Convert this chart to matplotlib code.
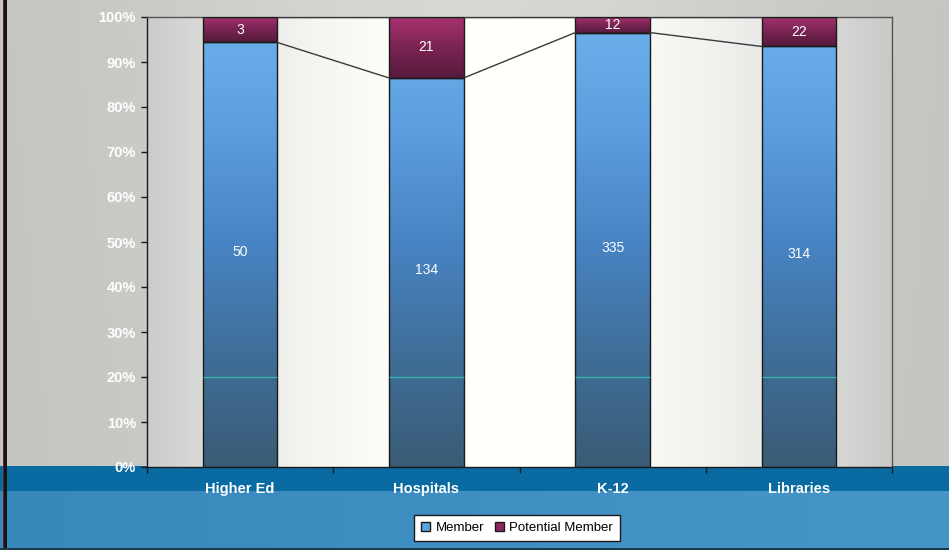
import numpy as np
import matplotlib
matplotlib.use("Agg")
import matplotlib.pyplot as plt
from matplotlib.colors import LinearSegmentedColormap, to_rgb
from matplotlib.patches import Patch

plt.rcParams['font.family'] = ['Liberation Sans', 'DejaVu Sans']

# Membership counts by sector
categories = ["Higher Ed", "Hospitals", "K-12", "Libraries"]
member = [50, 134, 335, 314]
potential = [3, 21, 12, 22]
series_names = ["Member", "Potential Member"]
y_tick_labels = ["0%", "10%", "20%", "30%", "40%", "50%", "60%", "70%", "80%", "90%", "100%"]

member = np.array(member, dtype=float)
potential = np.array(potential, dtype=float)
totals = member + potential
member_frac = member / totals
potential_frac = potential / totals

W, H = 949, 550
fig = plt.figure(figsize=(W / 100, H / 100), dpi=100)

# ---- figure background: silver gradient on top, blue band at the bottom ----
bg = fig.add_axes([0, 0, 1, 1])
bg.set_axis_off()
xs = np.linspace(0, 1, W)
ys = np.linspace(0, 1, H)  # 0 = top
X, Y = np.meshgrid(xs, ys)
silver = 0.765 + 0.08 * np.exp(-((X - 0.5) / 0.35) ** 2) * (1 - 0.35 * Y)
img = np.dstack([silver, silver, silver * 0.985])
band_top = 466 / H
band_mid = 491 / H
dark_blue = np.array(to_rgb("#0b6ca3"))
light_blue = np.array(to_rgb("#3888bc"))
light_blue2 = np.array(to_rgb("#4796c9"))
mask1 = (Y >= band_top) & (Y < band_mid)
mask2 = Y >= band_mid
img[mask1] = dark_blue
t = X[mask2][:, None]
img[mask2] = light_blue * (1 - t) + light_blue2 * t
img[:, 3:4] = np.array(to_rgb("#6a2020"))
img[:, 4:7] = np.array(to_rgb("#151515"))
img[-2:, :] = np.array(to_rgb("#1a3a50"))
bg.imshow(img, extent=[0, 1, 0, 1], aspect="auto", origin="upper")
bg.set_xlim(0, 1)
bg.set_ylim(0, 1)

# ---- plot area ----
left, right = 147 / W, 892 / W
bottom, top = (H - 467) / H, (H - 17) / H
ax = fig.add_axes([left, bottom, right - left, top - bottom])
ax.set_facecolor("none")
xlim = (-0.5, len(categories) - 0.5)
ylim = (0, 1)

# plot area fill: grey at the sides, white toward the centre
px = np.linspace(0, 1, 400)
shade = np.interp(px, [0, 0.2, 0.35, 0.6, 0.8, 1.0], [0.80, 0.95, 1.0, 1.0, 0.93, 0.79])
pa = np.dstack([shade, shade, shade * 0.99]).repeat(2, axis=0)
ax.imshow(pa, extent=[xlim[0], xlim[1], 0, 1], aspect="auto", zorder=0)

x = np.arange(len(categories))
bar_w = 0.40

member_cmap = LinearSegmentedColormap.from_list(
    "member", ["#3a5c76", "#3f6e98", "#4884c4", "#5c9ede", "#6cb2ec"])
potential_cmap = LinearSegmentedColormap.from_list(
    "potential", ["#561a3c", "#7a2452", "#a83270"])

grad = np.linspace(0, 1, 256).reshape(-1, 1)

bars_m = ax.bar(x, member_frac, width=bar_w, facecolor="none",
                edgecolor="#1a1a1a", linewidth=1.0, zorder=3)
bars_p = ax.bar(x, potential_frac, width=bar_w, bottom=member_frac,
                facecolor="none", edgecolor="#1a1a1a", linewidth=1.0, zorder=3)

for rect in bars_m:
    x0, y0 = rect.get_x(), rect.get_y()
    im = ax.imshow(grad, cmap=member_cmap, extent=[x0, x0 + rect.get_width(), 0, 1],
                   origin="lower", aspect="auto", zorder=2)
    im.set_clip_path(rect)
for rect in bars_p:
    x0, y0 = rect.get_x(), rect.get_y()
    im = ax.imshow(grad, cmap=potential_cmap,
                   extent=[x0, x0 + rect.get_width(), y0, y0 + rect.get_height()],
                   origin="lower", aspect="auto", zorder=2)
    im.set_clip_path(rect)

# faint teal line across the bars at 20%
ax.hlines(np.full(len(x), 0.2), x - bar_w / 2, x + bar_w / 2, color="#2ec8b0",
          linewidth=1.0, alpha=0.8, zorder=4)

# series lines joining the segment tops
for i in range(len(categories) - 1):
    ax.plot([x[i] + bar_w / 2, x[i + 1] - bar_w / 2],
            [member_frac[i], member_frac[i + 1]],
            color="#3a3a3a", linewidth=1.0, zorder=3)
    ax.plot([x[i] + bar_w / 2, x[i + 1] - bar_w / 2], [1, 1],
            color="#3a3a3a", linewidth=1.0, zorder=3)

# value labels
for i in range(len(categories)):
    ax.text(x[i], member_frac[i] / 2 + 0.005, f"{int(member[i])}", color="white",
            ha="center", va="center", fontsize=10, zorder=5)
    ax.text(x[i], member_frac[i] + potential_frac[i] / 2, f"{int(potential[i])}",
            color="white", ha="center", va="center", fontsize=10, zorder=5)

ax.set_xlim(*xlim)
ax.set_ylim(*ylim)

ax.set_yticks(np.linspace(0, 1, len(y_tick_labels)))
ax.set_yticklabels(y_tick_labels, color="white", fontsize=10.5, fontweight="bold")
ax.tick_params(axis="y", direction="out", length=4, width=1, pad=4, colors="#1a1a1a",
               labelcolor="white")

ax.set_xticks(x)
ax.set_xticklabels(categories, color="white", fontsize=10.5, fontweight="bold")
ax.tick_params(axis="x", which="major", length=0, pad=11, labelcolor="white")
ax.set_xticks(np.arange(-0.5, len(categories), 1), minor=True)
ax.tick_params(axis="x", which="minor", direction="out", length=4, width=1,
               colors="#1a1a1a")

for side in ["left", "bottom"]:
    ax.spines[side].set_color("#1a1a1a")
    ax.spines[side].set_linewidth(1.0)
for side in ["top", "right"]:
    ax.spines[side].set_color("#555555")
    ax.spines[side].set_linewidth(1.0)

handles = [Patch(facecolor="#5aa6e0", edgecolor="#1a1a1a", label=series_names[0]),
           Patch(facecolor="#8a2a5c", edgecolor="#1a1a1a", label=series_names[1])]
leg = fig.legend(handles=handles, loc="center", bbox_to_anchor=(517 / W, 1 - 528 / H),
                 ncol=2, frameon=True, fancybox=False, fontsize=9.5, framealpha=1.0,
                 handlelength=0.7, handleheight=0.7, handletextpad=0.4,
                 columnspacing=0.8, borderpad=0.55, edgecolor="#1a1a1a")
leg.get_frame().set_linewidth(1.0)
leg.get_frame().set_facecolor("white")

fig.savefig("out.png", dpi=100)
